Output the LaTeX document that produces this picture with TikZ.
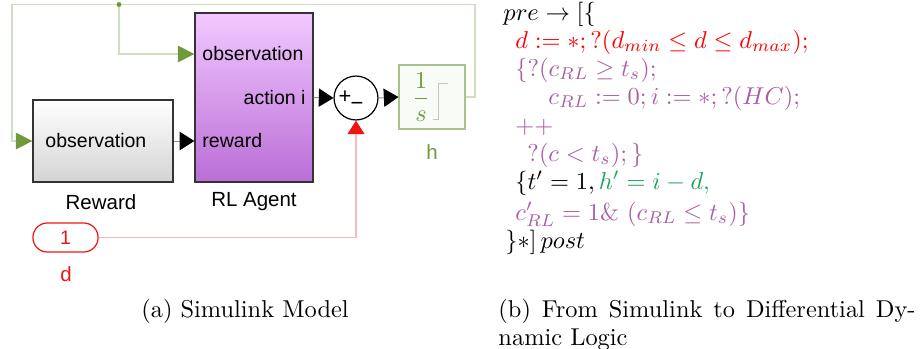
\documentclass[tikz,border=0pt]{standalone}
\usepackage{amsmath,amssymb}
\usepackage{fontspec}
\newfontfamily\simfont{Liberation Sans}
\usetikzlibrary{arrows.meta,calc}
\definecolor{simGreen}{RGB}{110,154,60}
\definecolor{simLine}{RGB}{208,222,196}
\definecolor{simRed}{RGB}{240,20,20}
\definecolor{simPink}{RGB}{255,185,185}
\definecolor{agentTop}{RGB}{242,200,255}
\definecolor{agentBot}{RGB}{186,110,214}
\definecolor{dlPurple}{RGB}{170,95,160}
\definecolor{dlGreen}{RGB}{25,165,90}

\begin{document}
\begin{tikzpicture}[x=0.41pt,y=-0.41pt,
  blk/.style={draw=black!80,line width=0.5pt,inner sep=0pt},
  lbl/.style={font=\simfont\fontsize{8}{9}\selectfont,inner sep=0pt},
  port/.style={lbl,anchor=west},
  sig/.style={draw=black!45,line width=0.4pt,-{Triangle[length=6pt,width=7.5pt,color=black]}},
  fb/.style={draw=simLine,line width=0.5pt,-{Triangle[length=6.8pt,width=6.8pt,color=simGreen]}},
  dsig/.style={draw=simPink,line width=0.5pt,-{Triangle[length=5.6pt,width=7pt,color=simRed]}},
  dl/.style={anchor=base west,inner sep=0pt}]
  \useasboundingbox (0,0) rectangle (922,348);
  % simulink blocks
  \node[blk,top color=white,bottom color=black!17,minimum width=57.4pt,minimum height=33.6pt] (rew) at (103,141) {};
  \node[port] (rewobs) at (45,141) {observation};
  \node[lbl,font=\simfont\fontsize{8.4}{9}\selectfont] (rewname) at (101,202) {Reward};
  \node[blk,top color=agentTop,bottom color=agentBot,minimum width=48.4pt,minimum height=69.3pt] (agent) at (254,97.5) {};
  \node[port] (agobs) at (202,54) {observation};
  \node[port] (agrew) at (202,141) {reward};
  \node[lbl,anchor=east] (agact) at (306,98) {action i};
  \node[lbl,font=\simfont\fontsize{8.4}{9}\selectfont] (agname) at (254,202) {RL Agent};
  \node[circle,draw,fill=white,line width=0.5pt,minimum size=18pt,inner sep=0pt] (sum) at (356,98) {};
  \node[lbl,font=\simfont\fontsize{9}{10}\selectfont] (sumplus) at (345,97) {+};
  \node[lbl,font=\simfont\fontsize{9}{10}\selectfont] (summinus) at (357,106) {−};
  \node[blk,draw=simGreen!60,fill=simGreen!4,minimum width=27pt,minimum height=26.2pt] (int) at (432,97) {};
  \node[text=simGreen,inner sep=0pt] (intfrac) at (421,97) {$\displaystyle\frac{1}{s}$};
  \draw[simLine!80!gray,line width=0.4pt] (433,119) -- (438,119) -- (438,83) -- (448,83);
  \node[lbl,font=\simfont\fontsize{8.4}{9}\selectfont,text=simGreen] (intname) at (432,152) {h};
  \node[lbl,draw=simRed,line width=0.5pt,rounded corners=5.9pt,minimum width=26.7pt,minimum height=11.9pt,text=simRed] (dconst) at (65.5,237.5) {1};
  \node[lbl,font=\simfont\fontsize{8.4}{9}\selectfont,text=simRed] (dname) at (66,274) {d};
  % signals
  \coordinate (ne) at (475,4.5);
  \coordinate (nw) at (12,4.5);
  \coordinate (br) at (119,4.5);
  \draw[fb] (int.east) -| (ne) -- (nw) |- (rew.west);
  \draw[fb] (br) |- (agent.west |- agobs);
  \fill[simGreen] (br) circle (1pt);
  \draw[sig] (rew.east) -- (agent.west |- rew.east);
  \draw[sig] (agent.east) -- (sum.west);
  \draw[sig] (sum.east) -- (int.west);
  \draw[dsig] (dconst.east) -| (sum.south);
  % dL program
  \node[dl] (l1) at (503,20) {$pre \rightarrow [\{$};
  \node[dl,text=red] (l2) at (515,48) {$d := *; ?(d_{min} \leq d \leq d_{max});$};
  \node[dl,text=dlPurple] (l3) at (515,76) {$\{?(c_{RL} \geq t_s);$};
  \node[dl,text=dlPurple] (l4) at (548,104) {$c_{RL} := 0; i := *; ?(HC);$};
  \node[dl,text=dlPurple] (l5) at (515,133) {$++$};
  \node[dl,text=dlPurple] (l6) at (527,161) {$?(c < t_s); \}$};
  \node[dl] (l7) at (515,189) {$\{t' = 1, \textcolor{dlGreen}{h' = i - d,}$};
  \node[dl,text=dlPurple] (l8) at (515,220) {$c'_{RL} = 1\&\ (c_{RL} \leq t_s)\}$};
  \node[dl] (l9) at (505,248) {$\}*]\, post$};
  % captions
  \node[anchor=base] (capa) at (245,317) {(a) Simulink Model};
  \node[dl] (capb) at (498,317) {\hbox to 171pt{(b) From Simulink to Differential Dy-}};
  \node[dl] (capbb) at (498,345) {namic Logic};
\end{tikzpicture}
\end{document}
